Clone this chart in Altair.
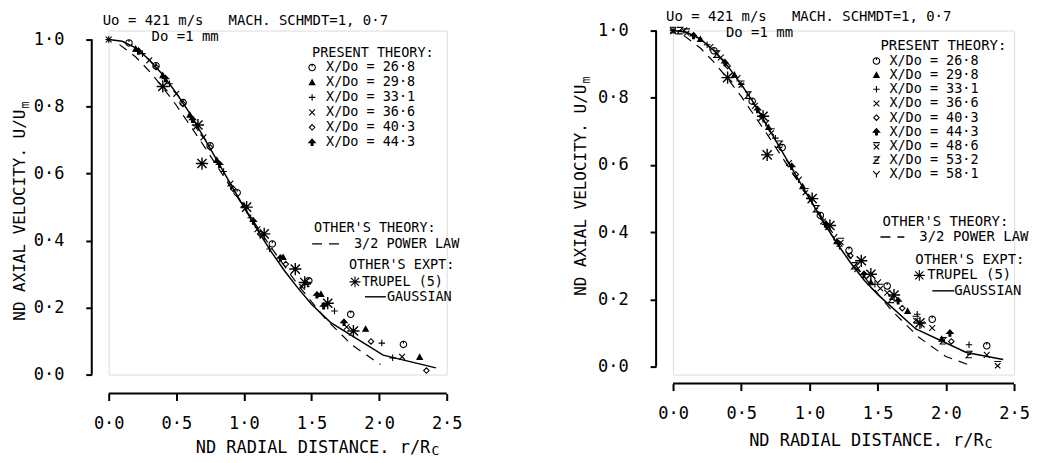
import altair as alt
import pandas as pd

FONT = "DejaVu Sans Mono"
NB = "\u00a0"

# ---------------- data ----------------
# Gaussian profile (solid line)
gauss_left_r = [0.0, 0.1, 0.2, 0.3, 0.4, 0.5, 0.6, 0.7, 0.8, 0.9, 1.0, 1.1, 1.2, 1.3, 1.4, 1.5, 1.64, 2.03, 2.42]
gauss_left_u = [1.0, 0.995, 0.975, 0.94, 0.895, 0.84, 0.78, 0.71, 0.64, 0.57, 0.5, 0.432, 0.368, 0.31, 0.258, 0.21, 0.156, 0.058, 0.02]
gauss_right_r = [0.0, 0.1, 0.2, 0.3, 0.4, 0.5, 0.6, 0.7, 0.8, 0.9, 1.0, 1.1, 1.2, 1.3, 1.4, 1.5, 1.78, 2.15, 2.42]
gauss_right_u = [1.0, 0.995, 0.975, 0.94, 0.895, 0.84, 0.78, 0.71, 0.64, 0.57, 0.5, 0.432, 0.368, 0.31, 0.258, 0.215, 0.112, 0.042, 0.021]

# 3/2 power law (dashed line)
power_left_r = [0.08, 0.2, 0.3, 0.4, 0.5, 0.6, 0.7, 0.8, 0.9, 1.0, 1.2, 1.4, 1.6, 1.8, 2.01]
power_left_u = [0.985, 0.948, 0.906, 0.857, 0.804, 0.745, 0.685, 0.623, 0.561, 0.5, 0.38, 0.268, 0.168, 0.088, 0.03]
power_right_r = [0.08, 0.2, 0.3, 0.4, 0.5, 0.6, 0.7, 0.8, 0.9, 1.0, 1.2, 1.4, 1.6, 1.8, 2.0, 2.17]
power_right_u = [0.985, 0.948, 0.906, 0.857, 0.804, 0.745, 0.685, 0.623, 0.561, 0.5, 0.38, 0.268, 0.168, 0.088, 0.03, 0.005]

# Trupel (5) experiment (asterisks)
trupel_r = [0.40, 0.66, 0.69, 1.02, 1.15, 1.38, 1.45, 1.62, 1.81]
trupel_u = [0.86, 0.745, 0.63, 0.50, 0.42, 0.315, 0.275, 0.213, 0.13]

# Present theory, left panel
left_series = ["26·8", "29·8", "33·1", "36·6", "40·3", "44·3"]
left_r = {
    "26·8": [0.15, 0.35, 0.55, 0.75, 0.95, 1.21, 1.48, 1.79, 2.18],
    "29·8": [0.2, 0.4, 0.6, 0.8, 1.0, 1.29, 1.57, 1.90, 2.30],
    "33·1": [0.0, 0.25, 0.45, 0.65, 0.85, 1.05, 1.19, 1.47, 1.67, 2.02, 2.10],
    "36·6": [0.0, 0.3, 0.5, 0.7, 0.9, 1.1, 1.43, 1.76, 2.17],
    "40·3": [0.35, 0.55, 0.75, 0.92, 1.12, 1.31, 1.94, 2.35],
    "44·3": [0.22, 0.42, 0.62, 0.82, 1.07, 1.27, 1.54, 1.59, 1.74],
}
left_u = {
    "26·8": [0.99, 0.922, 0.812, 0.683, 0.543, 0.39, 0.28, 0.18, 0.09],
    "29·8": [0.972, 0.893, 0.775, 0.64, 0.505, 0.35, 0.24, 0.136, 0.052],
    "33·1": [1.0, 0.958, 0.868, 0.742, 0.606, 0.468, 0.375, 0.27, 0.19, 0.094, 0.05],
    "36·6": [1.0, 0.938, 0.838, 0.708, 0.57, 0.434, 0.262, 0.142, 0.053],
    "40·3": [0.918, 0.808, 0.678, 0.555, 0.42, 0.33, 0.099, 0.012],
    "44·3": [0.966, 0.884, 0.762, 0.628, 0.458, 0.348, 0.238, 0.205, 0.156],
}

# Present theory, right panel
right_series = ["26·8", "29·8", "33·1", "36·6", "40·3", "44·3", "48·6", "53·2", "58·1"]
right_r = {
    "26·8": [0.3, 0.58, 0.8, 1.08, 1.29, 1.57, 1.90, 2.30],
    "29·8": [0.2, 0.45, 0.7, 0.95, 1.2, 1.45, 1.72, 1.97],
    "33·1": [0.0, 0.25, 0.5, 0.75, 1.0, 1.22, 1.48, 1.79, 2.17],
    "36·6": [0.0, 0.35, 0.6, 0.85, 1.1, 1.35, 1.57, 1.90, 2.30],
    "40·3": [0.4, 0.65, 0.9, 1.13, 1.30, 1.68, 2.04],
    "44·3": [0.15, 0.38, 0.62, 0.87, 1.12, 1.40, 1.65, 2.03],
    "48·6": [0.0, 0.1, 0.5, 0.72, 0.97, 1.23, 1.52, 1.78, 2.38],
    "53·2": [0.05, 0.32, 0.55, 0.78, 1.05, 1.33, 1.60, 1.98, 2.17],
    "58·1": [0.08, 0.27, 0.47, 0.68, 0.92, 1.18, 1.50, 1.82],
}
right_u = {
    "26·8": [0.94, 0.79, 0.652, 0.45, 0.346, 0.24, 0.141, 0.062],
    "29·8": [0.974, 0.868, 0.712, 0.536, 0.372, 0.25, 0.165, 0.082],
    "33·1": [1.0, 0.958, 0.84, 0.68, 0.502, 0.358, 0.245, 0.156, 0.065],
    "36·6": [1.0, 0.92, 0.776, 0.606, 0.432, 0.29, 0.22, 0.115, 0.035],
    "40·3": [0.895, 0.745, 0.572, 0.418, 0.33, 0.174, 0.075],
    "44·3": [0.985, 0.905, 0.765, 0.596, 0.424, 0.275, 0.196, 0.10],
    "48·6": [1.0, 0.995, 0.84, 0.698, 0.52, 0.372, 0.235, 0.14, 0.005],
    "53·2": [1.0, 0.93, 0.808, 0.662, 0.47, 0.30, 0.20, 0.077, 0.036],
    "58·1": [1.0, 0.95, 0.858, 0.724, 0.556, 0.385, 0.25, 0.125],
}

x_ticks = [0.0, 0.5, 1.0, 1.5, 2.0, 2.5]
y_ticks = [0.0, 0.2, 0.4, 0.6, 0.8, 1.0]

# ---------------- marker styles ----------------
STYLE = {
    "26·8": ("M0,-1A1,1,0,1,1,0,1A1,1,0,1,1,0,-1M0,-1L0,-0.3", "transparent", 42),
    "29·8": ("M0,-1L1,0.8L-1,0.8Z", "black", 30),
    "33·1": ("M-1,0L1,0M0,-1L0,1", "transparent", 42),
    "36·6": ("M-1,-1L1,1M-1,1L1,-1", "transparent", 34),
    "40·3": ("M0,-1L1,0L0,1L-1,0Z", "transparent", 30),
    "44·3": ("M0,-1L1,0.1L0.3,0.1L0.3,1L-0.3,1L-0.3,0.1L-1,0.1Z", "black", 40),
    "48·6": ("M-1,-1L1,-1M-0.8,-0.5L0.8,1M-0.8,1L0.8,-0.5", "transparent", 46),
    "53·2": ("M-0.9,-1L0.9,-1L-0.9,1L0.9,1M-0.6,0L0.6,0", "transparent", 42),
    "58·1": ("M-1,-1L0,0.1L1,-1M0,0.1L0,1", "transparent", 42),
}
ASTER = "M0,-1L0,1M-1,0L1,0M-0.75,-0.75L0.75,0.75M-0.75,0.75L0.75,-0.75"
AXW = 2.0


def text_layer(rows):
    df = pd.DataFrame(rows, columns=["px", "py", "text", "fs", "ang"])
    return alt.Chart(df).mark_text(align="left", baseline="middle", font=FONT, color="black").encode(
        x=alt.X("px:Q", scale=None, axis=None),
        y=alt.Y("py:Q", scale=None, axis=None),
        text="text:N",
        size=alt.Size("fs:Q", scale=None, legend=None),
        angle=alt.Angle("ang:Q", scale=None, legend=None),
    )


def panel(series, sr, su, g_r, g_u, p_r, p_u, L):
    H = 345
    xs = alt.Scale(domain=[0, 2.5], nice=False, zero=False)
    ys = alt.Scale(domain=L["ydom"], nice=False, zero=False)
    xaxis = alt.Axis(values=x_ticks, title=None, grid=False, offset=L["xoff"], domain=False,
                     labelExpr="replace(format(datum.value, '.1f'), '.', '·')",
                     labelFont=FONT, labelFontSize=17, labelColor="black", labelPadding=15,
                     tickSize=7, tickWidth=AXW, tickColor="black", labelFlush=False)
    yaxis = alt.Axis(values=y_ticks, title=None, grid=False, offset=17, domain=False,
                     labelExpr="replace(format(datum.value, '.1f'), '.', '·')",
                     labelFont=FONT, labelFontSize=17, labelColor="black", labelPadding=22,
                     tickSize=6, tickWidth=AXW, tickColor="black")
    X = alt.X("r:Q", scale=xs, axis=xaxis)
    Y = alt.Y("u:Q", scale=ys, axis=yaxis)

    gauss = alt.Chart(pd.DataFrame({"r": g_r, "u": g_u})).mark_line(
        color="black", strokeWidth=1.5).encode(x=X, y=Y)
    power = alt.Chart(pd.DataFrame({"r": p_r, "u": p_u})).mark_line(
        color="black", strokeWidth=1.2, strokeDash=[9, 7]).encode(x=X, y=Y)

    rows = []
    for s in series:
        shp, fill, size = STYLE[s]
        for r, u in zip(sr[s], su[s]):
            rows.append({"r": r, "u": u, "series": s, "shape": shp, "fill": fill, "size": size})
    pts = alt.Chart(pd.DataFrame(rows)).mark_point(opacity=1, strokeWidth=1.1, color="black").encode(
        x=X, y=Y,
        shape=alt.Shape("shape:N", scale=None, legend=None),
        fill=alt.Fill("fill:N", scale=None, legend=None),
        size=alt.Size("size:Q", scale=None, legend=None),
        stroke=alt.value("black"),
    )
    tru = alt.Chart(pd.DataFrame({"r": trupel_r, "u": trupel_u})).mark_point(
        shape=ASTER, size=150, strokeWidth=1.4, color="black", opacity=1, filled=False).encode(x=X, y=Y)

    # axis lines (the y line stops at 1.0, the x line is detached below the plot)
    yline = alt.Chart(pd.DataFrame({"u": [0.0], "u2": [1.0]})).mark_rule(
        color="black", strokeWidth=AXW).encode(x=alt.value(-17), y=Y, y2="u2:Q")
    xline = alt.Chart(pd.DataFrame({"r": [0.0], "r2": [2.5]})).mark_rule(
        color="black", strokeWidth=AXW).encode(y=alt.value(H + L["xoff"]), x=X, x2="r2:Q")

    # legend block (pixel layout)
    fs = L["lfs"]
    hfs = L["hfs"]
    head = "Uo = 421 m/s" + NB * 3 + "MACH. SCHMDT=1, 0·7"
    trows = [
        (L["hx"], L["hy"], head.replace(" ", NB), 14, 0),
        (L["dx"], L["dy"], "Do =1 mm".replace(" ", NB), 14, 0),
        (L["ptx"], L["pty"], "PRESENT THEORY:", hfs, 0),
        (L["otx"], L["oty"], "OTHER'S THEORY:", hfs, 0),
        (L["plx"], L["ply"], "3/2 POWER LAW", hfs, 0),
        (L["oex"], L["oey"], "OTHER'S EXPT:", hfs, 0),
        (L["trx"], L["tpy"], "TRUPEL (5)", hfs, 0),
        (L["gax"], L["gay"], "GAUSSIAN", hfs, 0),
    ]
    mrows = []
    for i, s in enumerate(series):
        yy = L["ey0"] + i * L["edy"]
        trows.append((L["etx"], yy, "X/Do = " + s, fs, 0))
        shp, fill, size = STYLE[s]
        mrows.append({"px": L["emx"], "py": yy, "shape": shp, "fill": fill, "size": size})
    mrows.append({"px": L["tax"], "py": L["tpy"], "shape": ASTER, "fill": "transparent", "size": 120})
    # axis titles
    tfs = 17
    xmain = "ND RADIAL DISTANCE. r/R"
    xw = len(xmain) * 0.602 * tfs
    x0 = L["xtx"] - (xw + 8) / 2
    trows.append((x0, L["xty"], xmain, tfs, 0))
    trows.append((x0 + xw + 1, L["xty"] + 3, "C", 13, 0))
    yfs = 16
    ymain = "ND AXIAL VELOCITY. U/U"
    yw = len(ymain) * 0.602 * yfs
    y0 = L["yty"] + (yw + 8) / 2
    trows.append((L["ytx"], y0, ymain, yfs, 270))
    trows.append((L["ytx"] + 5, y0 - yw - 1, "m", 12, 270))
    texts = text_layer(trows)

    marks = alt.Chart(pd.DataFrame(mrows)).mark_point(opacity=1, strokeWidth=1.1).encode(
        x=alt.X("px:Q", scale=None, axis=None),
        y=alt.Y("py:Q", scale=None, axis=None),
        shape=alt.Shape("shape:N", scale=None, legend=None),
        fill=alt.Fill("fill:N", scale=None, legend=None),
        size=alt.Size("size:Q", scale=None, legend=None),
        stroke=alt.value("black"),
    )
    lg = pd.DataFrame({"a": [L["pd0"]], "b": [L["pd1"]], "c": [L["ply"]]})
    dash_leg = alt.Chart(lg).mark_rule(color="black", strokeWidth=1.3, strokeDash=[10, 7]).encode(
        x=alt.X("a:Q", scale=None, axis=None), x2="b:Q", y=alt.Y("c:Q", scale=None, axis=None))
    gl = pd.DataFrame({"a": [L["gl0"]], "b": [L["gl1"]], "c": [L["gay"]]})
    gauss_leg = alt.Chart(gl).mark_rule(color="black", strokeWidth=1.4).encode(
        x=alt.X("a:Q", scale=None, axis=None), x2="b:Q", y=alt.Y("c:Q", scale=None, axis=None))

    return alt.layer(gauss, power, pts, tru, yline, xline, texts, marks, dash_leg, gauss_leg).properties(
        width=L["w"], height=H)


LEFT = dict(w=339, ydom=[0.0, 1.0268], xoff=19,
            hx=-6, hy=-10, dx=43, dy=6,
            ptx=204, pty=22, emx=204, etx=218, ey0=37, edy=15,
            otx=206, oty=198, pd0=204, pd1=231, plx=246, ply=214,
            oex=241, oey=235, tax=247, trx=254, tpy=252, gl0=257, gl1=278, gax=279, gay=267,
            lfs=13.5, hfs=13.5, xtx=209, xty=419, ytx=-89, yty=181)
RIGHT = dict(w=342, ydom=[-0.0237, 1.0], xoff=9,
             hx=-7, hy=-14, dx=53, dy=2,
             ptx=208, pty=15, emx=204, etx=217, ey0=30.5, edy=14.2,
             otx=210, oty=192, pd0=208, pd1=232, plx=247, ply=207,
             oex=243, oey=230, tax=247, trx=255, tpy=245.5, gl0=260, gl1=282, gax=282, gay=261,
             lfs=13.5, hfs=14, xtx=198, xty=412, ytx=-92, yty=156)

left = panel(left_series, left_r, left_u, gauss_left_r, gauss_left_u, power_left_r, power_left_u, LEFT)
right = panel(right_series, right_r, right_u, gauss_right_r, gauss_right_u, power_right_r, power_right_u, RIGHT)

chart = alt.hconcat(left, right, spacing=227, bounds="flush").properties(
    padding={"left": 3, "top": 0, "right": 0, "bottom": 0}
).configure_view(stroke=None).configure(background="white")

chart.save("out.html", embed_options={"renderer": "svg", "actions": False})
